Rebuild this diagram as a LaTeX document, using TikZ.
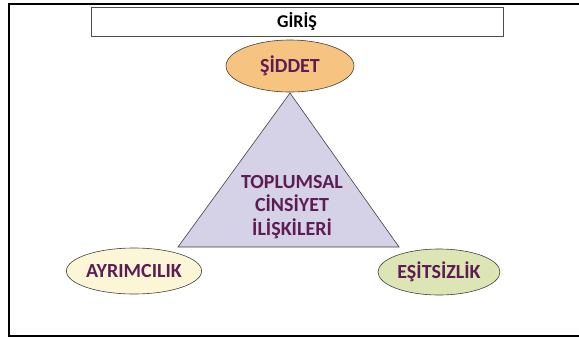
\documentclass[tikz,border=0pt]{standalone}
\usepackage{fontspec}
\setmainfont{Carlito}
\usetikzlibrary{shapes.geometric,positioning}

\definecolor{textpurple}{RGB}{94,28,84}
\definecolor{fillorange}{RGB}{247,195,128}
\definecolor{filllilac}{RGB}{213,209,230}
\definecolor{fillcream}{RGB}{251,247,214}
\definecolor{fillgreen}{RGB}{221,229,180}

\begin{document}
\begin{tikzpicture}[x=1pt,y=-1pt,
    frame/.style={line width=2pt,black},
    titlebox/.style={draw=black!70,line width=0.8pt},
    bubble/.style={ellipse,draw=black!75,line width=0.6pt,inner sep=0pt,
        font=\bfseries\fontsize{20}{22}\selectfont,text=textpurple},
    centerlabel/.style={align=center,font=\bfseries\fontsize{20}{23.5}\selectfont,text=textpurple}]

    \useasboundingbox (0,0) rectangle (579,338);

    % slide frame and title
    \draw[frame] (583,4) -- (9,4) -- (9,336) -- (583,336);
    \draw[titlebox] (91,7) rectangle (503,36);
    \node (title) at (297,21.5) {\bfseries\fontsize{18}{20}\selectfont GİRİŞ};

    % triangle
    \coordinate (apex) at (290,93);
    \coordinate (baseleft) at (178,247);
    \coordinate (baseright) at (399,247);
    \draw[fill=filllilac,draw=black!75,line width=0.6pt] (apex) -- (baseleft) -- (baseright) -- cycle;
    \node (relations) at (292,207) [centerlabel] {TOPLUMSAL\\CİNSİYET\\İLİŞKİLERİ};

    % corner ellipses
    \node (violence) at (290,66) [bubble,fill=fillorange,minimum width=128pt,minimum height=52pt] {ŞİDDET};
    \node (discrimination) at (134,271) [bubble,fill=fillcream,minimum width=123pt,minimum height=46pt] {AYRIMCILIK};
    \node (inequality) at (439,272) [bubble,fill=fillgreen,minimum width=122pt,minimum height=46pt] {EŞİTSİZLİK};

\end{tikzpicture}
\end{document}
